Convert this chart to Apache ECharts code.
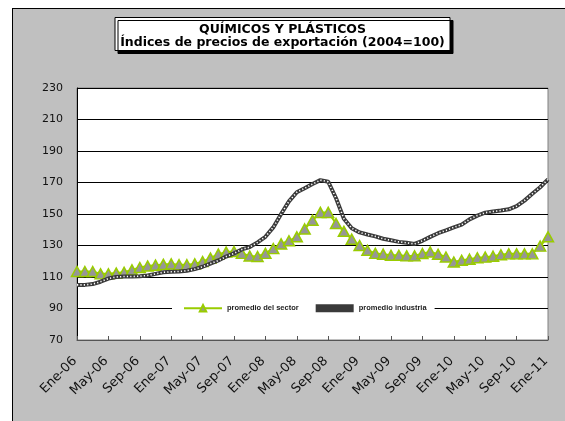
<!DOCTYPE html>
<html>
<head>
<meta charset="utf-8">
<script src="https://cdn.jsdelivr.net/npm/echarts@6/dist/echarts.min.js"></script>
<style>
html, body { margin: 0; padding: 0; background: #fff; overflow: hidden; width: 565px; height: 421px; }
#marco { position: absolute; left: 12px; top: 8px; width: 600px; height: 500px; background: #c0c0c0; border-left: 1px solid #000; border-top: 1px solid #000; }
#grafico { position: absolute; left: 0; top: 0; width: 565px; height: 421px; }
</style>
</head>
<body>
<div id="marco"></div>
<div id="grafico"></div>
<script>
// meses de Ene-06 a Ene-11
const nombresMes = ['Ene', 'Feb', 'Mar', 'Abr', 'May', 'Jun', 'Jul', 'Ago', 'Sep', 'Oct', 'Nov', 'Dic'];
const anios = ['06', '07', '08', '09', '10', '11'];
const meses = [];
anios.forEach(a => nombresMes.forEach(m => { if (meses.length < 61) meses.push(m + '-' + a); }));

const promedioSector = [
  113.5, 113.5, 113.5, 112, 112, 112.5, 113, 114.5, 116, 117,
  117.5, 118, 118.3, 117.8, 117.8, 118.3, 119.8, 122, 124.5, 125.8,
  126.2, 125, 123.3, 123, 125, 128, 131, 133, 135.5, 140.5,
  146, 151, 151, 144, 139, 134, 130, 127, 125, 124.5,
  123.8, 123.8, 123.4, 123.4, 124.9, 125.9, 124.4, 122.7, 119.5, 120.6,
  121.3, 122.2, 122.6, 123.2, 124.1, 124.7, 124.7, 124.7, 124.7, 129.6,
  135.5
];
const promedioIndustria = [
  105, 105, 105.5, 107, 109, 110, 110.3, 110.3, 110.5, 111,
  112, 113, 113.3, 113.5, 114, 115, 116.5, 118.5, 120.5, 123,
  125, 127.5, 129, 132, 135.5, 141.5, 150, 158, 163.8, 166.3,
  169, 171.5, 170.5, 160, 147, 141, 138.3, 137, 135.8, 134.3,
  133.3, 132.3, 131.7, 131, 133, 135.5, 137.8, 139.6, 141.5, 143.2,
  146.6, 149, 150.8, 151.6, 152.2, 153, 155, 158.5, 162.8, 167,
  172
];

const chart = echarts.init(document.getElementById('grafico'));
chart.setOption({
  animation: false,
  title: {
    text: 'QUÍMICOS Y PLÁSTICOS\nÍndices de precios de exportación (2004=100)',
    left: 'center',
    top: 17,
    padding: [6, 5, 2, 5],
    backgroundColor: '#fff',
    borderColor: '#000',
    borderWidth: 1,
    shadowColor: '#000',
    shadowBlur: 0.01,
    shadowOffsetX: 3,
    shadowOffsetY: 3,
    textStyle: { fontFamily: 'DejaVu Sans', fontSize: 12.5, fontWeight: 'bold', lineHeight: 13, color: '#000' }
  },
  legend: {
    left: 172,
    top: 301,
    backgroundColor: '#fff',
    padding: [3, 8, 3, 11],
    itemGap: 17,
    itemWidth: 38,
    itemHeight: 8,
    textStyle: { fontFamily: 'Liberation Sans', fontWeight: 'bold', fontSize: 7.5, color: '#222' },
    data: ['promedio del sector', { name: 'promedio industria', icon: 'rect', itemStyle: { color: '#3a3a3a' } }]
  },
  grid: { left: 77, right: 17, top: 88, bottom: 81, show: true, backgroundColor: '#fff', borderColor: '#808080', borderWidth: 1 },
  xAxis: {
    type: 'category',
    data: meses,
    boundaryGap: false,
    axisLine: { lineStyle: { color: '#555' } },
    axisTick: { inside: true, length: 4, interval: 3, lineStyle: { color: '#555' } },
    axisLabel: { interval: 3, rotate: 45, fontFamily: 'DejaVu Sans', fontSize: 13, color: '#111', margin: 17, padding: [0, 3, 0, 0] },
    splitLine: { show: false }
  },
  yAxis: {
    type: 'value',
    min: 70,
    max: 230,
    interval: 20,
    axisLine: { show: true, lineStyle: { color: '#000' } },
    axisTick: { show: false },
    axisLabel: { fontFamily: 'DejaVu Sans', fontSize: 11, color: '#111', margin: 14 },
    splitLine: { lineStyle: { color: '#000', width: 1 } }
  },
  series: [
    {
      name: 'promedio del sector',
      type: 'line',
      data: promedioSector,
      symbol: 'triangle',
      symbolSize: [11, 10],
      showAllSymbol: true,
      itemStyle: { color: '#969696', borderColor: '#99cc00', borderWidth: 1.5 },
      lineStyle: { color: '#99cc00', width: 2 },
      z: 2
    },
    {
      name: 'promedio industria',
      type: 'line',
      data: promedioIndustria,
      symbol: 'none',
      itemStyle: { color: '#3a3a3a' },
      lineStyle: { color: '#3a3a3a', width: 4 },
      z: 3
    },
    {
      // puntos blancos para el efecto de cadena
      name: 'industria-centro',
      type: 'line',
      data: promedioIndustria,
      symbol: 'none',
      silent: true,
      lineStyle: { color: '#fff', width: 1.6, type: [1.2, 2.2] },
      z: 4
    }
  ]
});
</script>
</body>
</html>
